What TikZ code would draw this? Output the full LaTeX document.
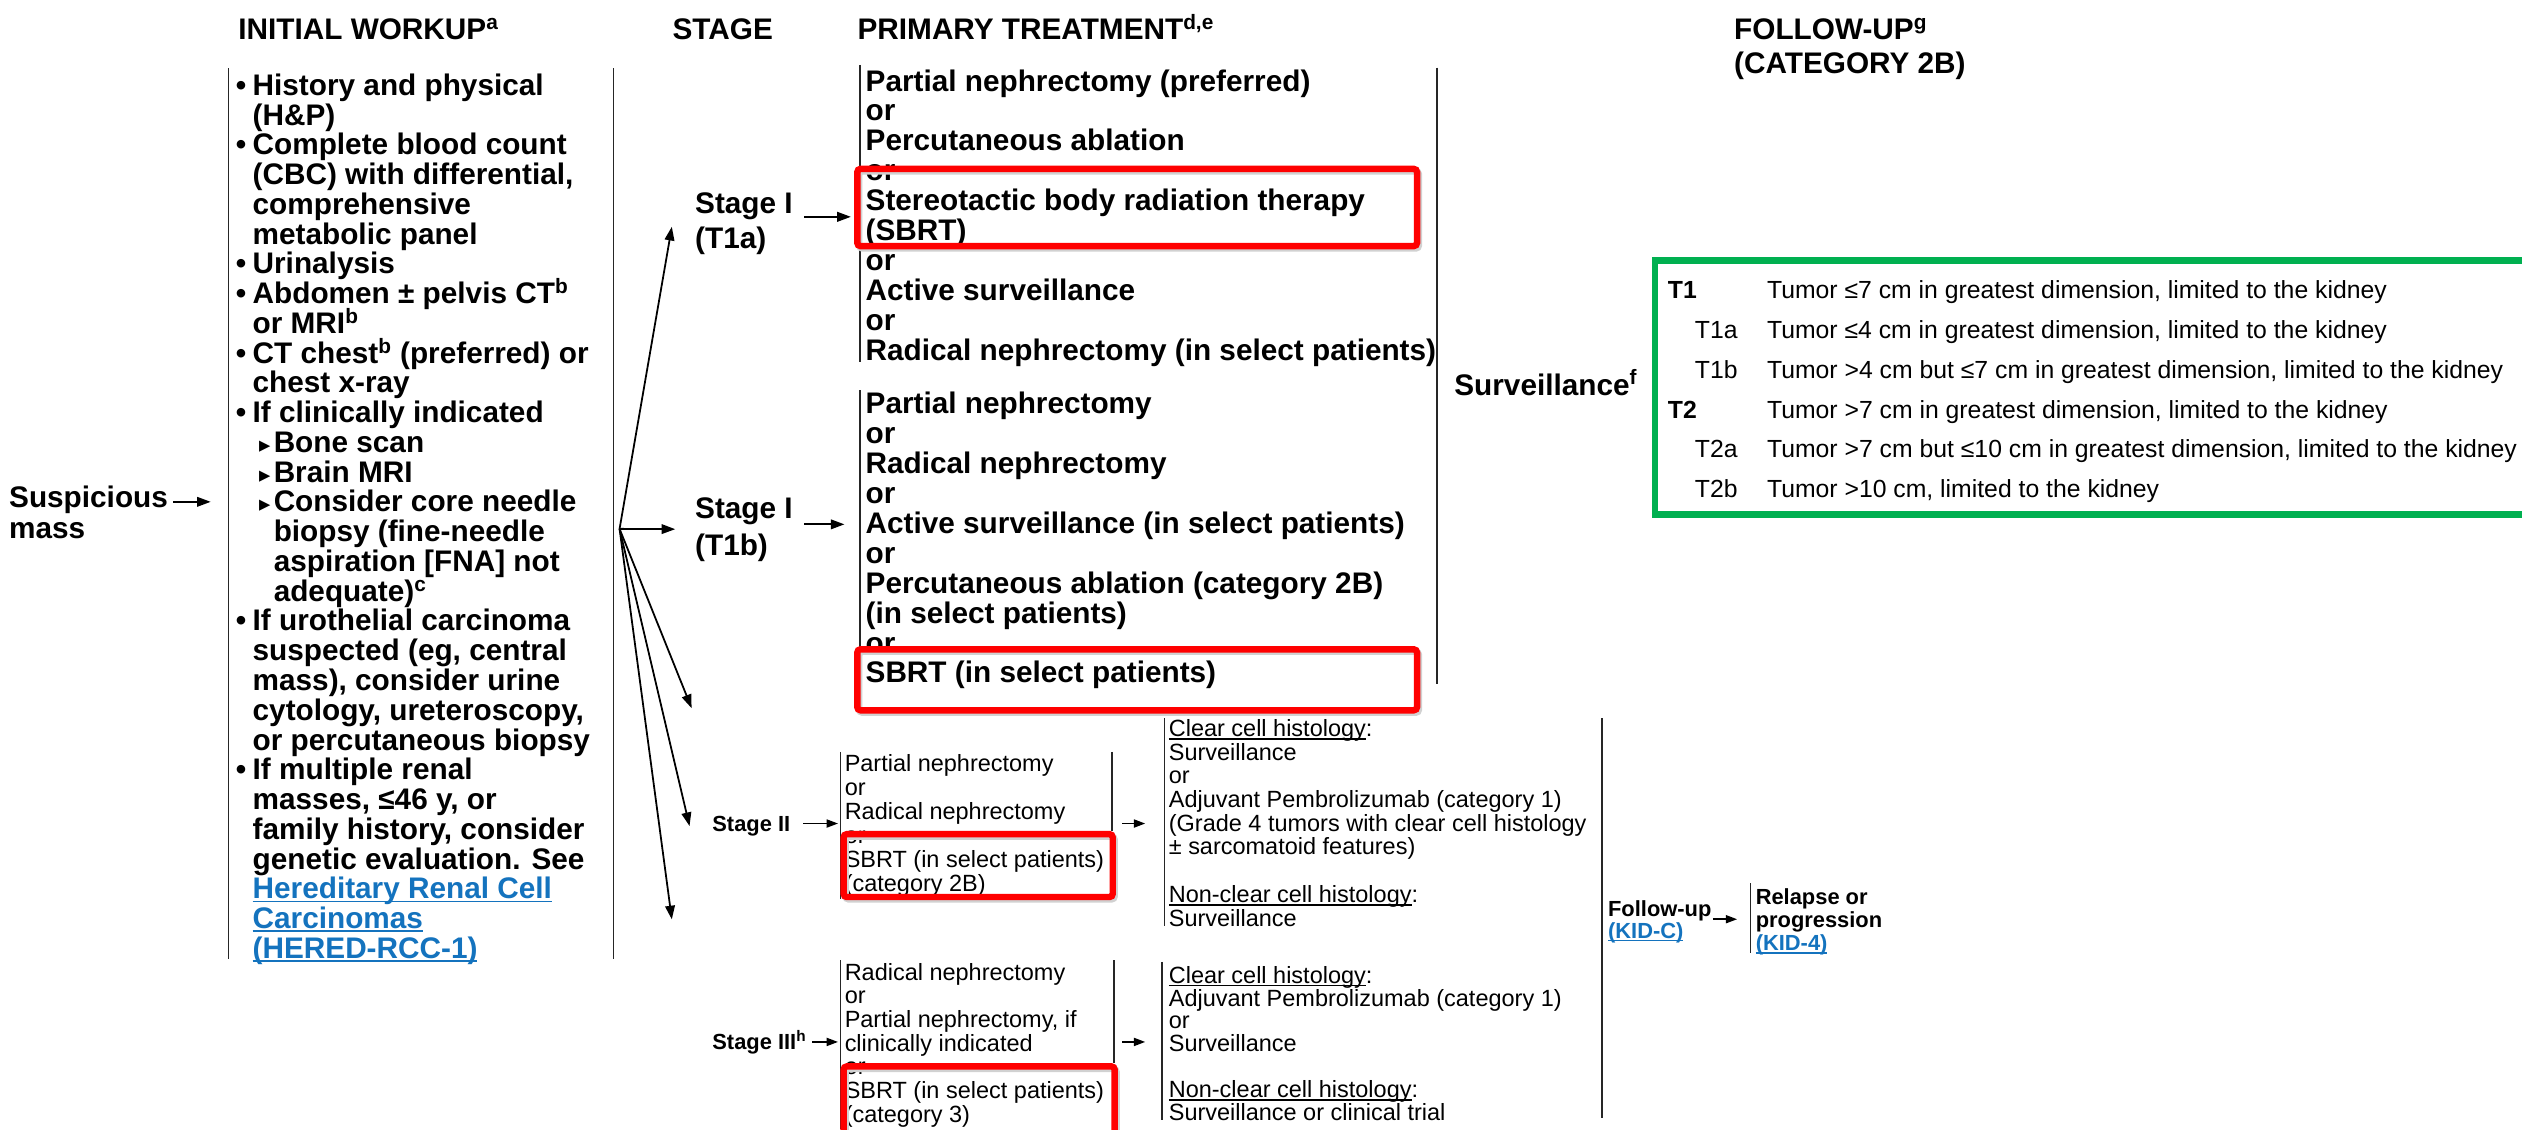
\documentclass[tikz,border=0pt]{standalone}
\usepackage{fontspec}
\setmainfont{Liberation Sans}
\newfontfamily\trifont{DejaVu Sans}
\usetikzlibrary{arrows.meta}
\definecolor{nccnred}{RGB}{255,0,0}
\definecolor{nccngreen}{RGB}{0,176,80}
\definecolor{nccnlink}{RGB}{20,115,190}
% text sizes of the page
\newcommand{\bigbf}{\fontsize{18.5}{18.5}\selectfont\bfseries}
\newcommand{\smrm}{\fontsize{14.6}{14.6}\selectfont}
\newcommand{\smbf}{\fontsize{13.6}{13.6}\selectfont\bfseries}
\newcommand{\tabrm}{\fontsize{15.4}{15.4}\selectfont}
% bullets of the workup list
\newcommand{\wb}{\llap{•\hspace{4pt}}}
\newcommand{\ws}{\hspace*{13.1pt}\llap{{\trifont\fontsize{14}{14}\selectfont ▸}\hspace{2pt}}}
\newcommand{\wi}{\hspace*{13.1pt}}
% underline close to the baseline
\newcommand{\hul}[1]{\setbox0\hbox{#1}\rlap{\rule[-2pt]{\wd0}{0.9pt}}\box0}
\newcommand{\lnk}[1]{\textcolor{nccnlink}{\hul{#1}}}

\begin{document}
\begin{tikzpicture}[x=1pt, y=-1pt]
  \tikzset{
    hdr/.style={font=\bigbf, anchor=base west, inner sep=0pt},
    rmtxt/.style={font=\smrm, anchor=base west, inner sep=0pt},
    bftxt/.style={font=\smbf, anchor=base west, inner sep=0pt},
    tabtxt/.style={font=\tabrm, anchor=base west, inner sep=0pt},
    vline/.style={line width=1pt, black!85},
    arr/.style={-{Triangle[length=8.5pt,width=6pt]}, line width=1.1pt},
    sarr/.style={-{Triangle[length=7pt,width=5pt]}, line width=1pt},
    redbox/.style={draw=nccnred, line width=4pt, rounded corners=2pt,
      preaction={draw=black!18, line width=4pt, transform canvas={shift={(1.2pt,-1.5pt)}}}},
    greenbox/.style={draw=nccngreen, line width=4pt}
  }
  \useasboundingbox[fill=white] (0,0) rectangle (1568,702);

  % column heads
  \node[hdr] (hwork)  at (148,24.5)  {INITIAL WORKUP\textsuperscript{a}};
  \node[hdr] (hstage) at (418,24.5)  {STAGE};
  \node[hdr] (hprim)  at (533,24.5)  {PRIMARY TREATMENT\textsuperscript{d,e}};
  \node[hdr] (hfoll)  at (1078,24.5) {FOLLOW-UP\textsuperscript{g}};
  \node[hdr] (hcat)   at (1078,46)   {(CATEGORY 2B)};

  % suspicious mass -> workup
  \node[hdr] (susp) at (5.5,315.5) {Suspicious};
  \node[hdr] (mass) at (5.5,335)   {mass};
  \coordinate (suspA) at (107.7,312);
  \coordinate (suspB) at (131,312);
  \draw[arr] (suspA) -- (suspB);

  \draw[vline] (142,42.5) -- (142,596);
  \draw[vline] (381.4,42.5) -- (381.4,596);
  \foreach \t [count=\i from 0] in {{\wb History and physical}, {(H\&P)},
      {\wb Complete blood count}, {(CBC) with differential,}, {comprehensive},
      {metabolic panel}, {\wb Urinalysis}, {\wb Abdomen ± pelvis CT\textsuperscript{b}},
      {or MRI\textsuperscript{b}}, {\wb CT chest\textsuperscript{b} (preferred) or},
      {chest x-ray}, {\wb If clinically indicated}, {\ws Bone scan}, {\ws Brain MRI},
      {\ws Consider core needle}, {\wi biopsy (fine-needle}, {\wi aspiration [FNA] not},
      {\wi adequate)\textsuperscript{c}}, {\wb If urothelial carcinoma},
      {suspected (eg, central}, {mass), consider urine}, {cytology, ureteroscopy,},
      {or percutaneous biopsy}, {\wb If multiple renal}, {masses, ≤46 y, or},
      {family history, consider}, {genetic evaluation. See},
      {\lnk{Hereditary Renal Cell}}, {\lnk{Carcinomas}}, {\lnk{(HERED-RCC-1)}}}
    \node[hdr] (w\i) at (156.9,{59.3+\i*18.5}) {\t};

  % workup -> stages
  \coordinate (fan) at (385.2,328.8);
  \coordinate (f1) at (417.7,141);
  \coordinate (f2) at (419.8,329);
  \coordinate (f3) at (430,440.3);
  \coordinate (f4) at (428.7,513.6);
  \coordinate (f5) at (417.7,571.6);
  \foreach \k in {1,...,5}
    \draw[arr] (fan) -- (f\k);

  \node[hdr] (s1a)  at (432,133)   {Stage I};
  \node[hdr] (s1at) at (432,154.6) {(T1a)};
  \node[hdr] (s1b)  at (432,322.6) {Stage I};
  \node[hdr] (s1bt) at (432,345.6) {(T1b)};
  \node[bftxt] (s2) at (442.7,516.8) {Stage II};
  \node[bftxt] (s3) at (442.7,652.6) {Stage III\textsuperscript{h}};

  \coordinate (a1a) at (500,134.8);  \coordinate (b1a) at (529,134.8);
  \coordinate (a1b) at (500,326);    \coordinate (b1b) at (525,326);
  \coordinate (a2)  at (499.5,512);  \coordinate (b2)  at (521,512);
  \coordinate (a3)  at (505,647.8);  \coordinate (b3)  at (521,647.8);
  \draw[arr] (a1a) -- (b1a);
  \draw[arr] (a1b) -- (b1b);
  \draw[sarr] (a2) -- (b2);
  \draw[sarr] (a3) -- (b3);

  % primary treatment, stage I
  \draw[vline] (534.5,40.4) -- (534.5,225);
  \foreach \t [count=\i from 0] in {{Partial nephrectomy (preferred)}, {or},
      {Percutaneous ablation}, {or}, {Stereotactic body radiation therapy}, {(SBRT)},
      {or}, {Active surveillance}, {or}, {Radical nephrectomy (in select patients)}}
    \node[hdr] (pa\i) at (538,{56.6+\i*18.6}) {\t};
  \draw[redbox] (533,105) rectangle (881,153);

  \draw[vline] (534.5,242.5) -- (534.5,441.5);
  \foreach \t [count=\i from 0] in {{Partial nephrectomy}, {or}, {Radical nephrectomy},
      {or}, {Active surveillance (in select patients)}, {or},
      {Percutaneous ablation (category 2B)}, {(in select patients)}, {or},
      {SBRT (in select patients)}}
    \node[hdr] (pb\i) at (538,{257.2+\i*18.6}) {\t};
  \draw[redbox] (533,403.7) rectangle (881,441.6);

  \draw[vline] (893.5,42) -- (893.5,425);
  \node[hdr] (surv) at (904,245.6) {Surveillance\textsuperscript{f}};

  % T categories
  \draw[greenbox] (1029,162) rectangle (1575,320);
  \foreach \x/\lab/\txt [count=\i from 0] in {
      1036.8/{\textbf{T1}}/{Tumor ≤7 cm in greatest dimension, limited to the kidney},
      1053.6/{T1a}/{Tumor ≤4 cm in greatest dimension, limited to the kidney},
      1053.6/{T1b}/{Tumor >4 cm but ≤7 cm in greatest dimension, limited to the kidney},
      1036.8/{\textbf{T2}}/{Tumor >7 cm in greatest dimension, limited to the kidney},
      1053.6/{T2a}/{Tumor >7 cm but ≤10 cm in greatest dimension, limited to the kidney},
      1053.6/{T2b}/{Tumor >10 cm, limited to the kidney}}
  {
    \node[tabtxt] (tl\i) at (\x,{185.5+\i*24.8}) {\lab};
    \node[tabtxt] (tt\i) at (1098.4,{185.5+\i*24.8}) {\txt};
  }

  % stage II
  \draw[vline] (522.5,467.5) -- (522.5,559);
  \draw[vline] (691.4,467.5) -- (691.4,516.6);
  \foreach \t [count=\i from 0] in {{Partial nephrectomy}, {or}, {Radical nephrectomy},
      {or}, {SBRT (in select patients)}, {(category 2B)}}
    \node[rmtxt] (c\i) at (525,{479.7+\i*14.9}) {\t};
  \draw[redbox] (524.5,518.6) rectangle (691.8,557.7);
  \coordinate (a2r) at (697.8,512); \coordinate (b2r) at (712,512);
  \draw[sarr] (a2r) -- (b2r);
  \draw[vline] (724,446.7) -- (724,576);
  \foreach \t [count=\i from 0] in {{\hul{Clear cell histology}:}, {Surveillance},
      {or}, {Adjuvant Pembrolizumab (category 1)},
      {(Grade 4 tumors with clear cell histology}, {± sarcomatoid features)}, {},
      {\hul{Non-clear cell histology}:}, {Surveillance}}
    \node[rmtxt] (d\i) at (726.5,{457.8+\i*14.75}) {\t};

  % stage III
  \draw[vline] (522.5,597) -- (522.5,702);
  \draw[vline] (692.5,597) -- (692.5,661);
  \foreach \t [count=\i from 0] in {{Radical nephrectomy}, {or}, {Partial nephrectomy, if},
      {clinically indicated}, {or}, {SBRT (in select patients)}, {(category 3)}}
    \node[rmtxt] (e\i) at (525,{609.3+\i*14.75}) {\t};
  \draw[redbox] (524.5,663) rectangle (693,708);
  \coordinate (a3r) at (697.8,647.8); \coordinate (b3r) at (712,647.8);
  \draw[sarr] (a3r) -- (b3r);
  \draw[vline] (722.6,598) -- (722.6,696.5);
  \foreach \t [count=\i from 0] in {{\hul{Clear cell histology}:},
      {Adjuvant Pembrolizumab (category 1)}, {or}, {Surveillance}, {},
      {\hul{Non-clear cell histology}:}, {Surveillance or clinical trial}}
    \node[rmtxt] (g\i) at (726.5,{611.3+\i*14.2}) {\t};

  % follow-up
  \draw[vline] (996,446.7) -- (996,695);
  \node[bftxt] (fu)   at (999.6,569.8) {Follow-up};
  \node[bftxt] (kidc) at (999.6,583.3) {\lnk{(KID-C)}};
  \coordinate (afu) at (1065,571.5); \coordinate (bfu) at (1080,571.5);
  \draw[sarr] (afu) -- (bfu);
  \draw[vline] (1088.3,549) -- (1088.3,592.8);
  \node[bftxt] (rel)  at (1091.4,562.5) {Relapse or};
  \node[bftxt] (prog) at (1091.4,576.5) {progression};
  \node[bftxt] (kid4) at (1091.4,591)   {\lnk{(KID-4)}};
\end{tikzpicture}
\end{document}
